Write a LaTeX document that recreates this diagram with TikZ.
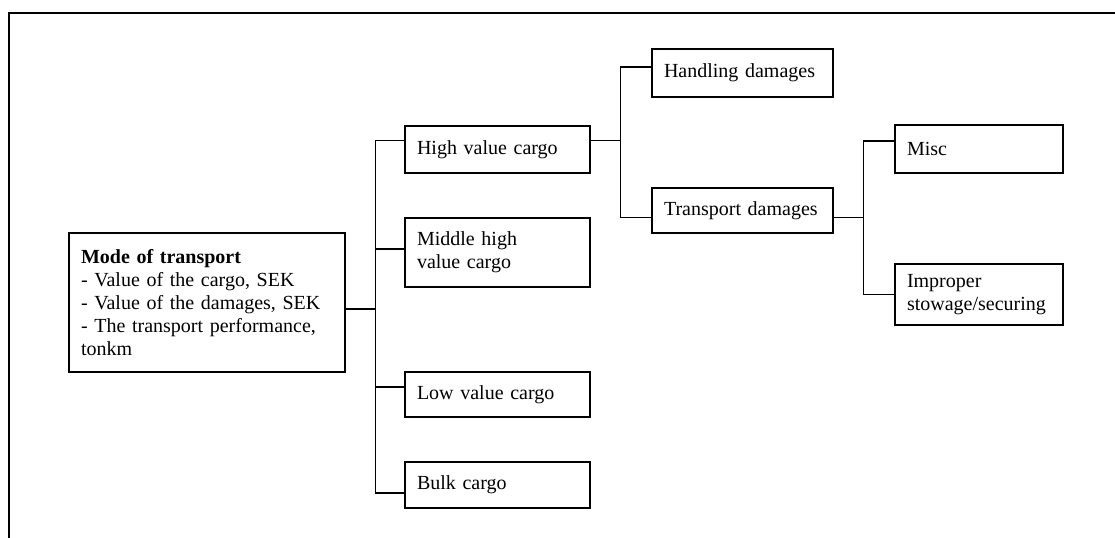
\documentclass[tikz,border=0pt]{standalone}
\usepackage{fontspec}
\setmainfont{Liberation Serif}
\usetikzlibrary{positioning}
\tikzstyle{frame} = [draw, line width=1.1pt]
\tikzstyle{block} = [rectangle, draw, line width=0.8pt, align=left, inner xsep=9pt, inner ysep=2pt]
\tikzstyle{cargo} = [block, text width=120.75pt]
\tikzstyle{damage} = [block, text width=117.75pt]
\tikzstyle{cause} = [block, text width=108pt]
\tikzstyle{line} = [draw, line width=0.8pt]

\begin{document}
\begin{tikzpicture}[x=0.75pt, y=-0.75pt, font=\fontsize{15}{17.25}\selectfont]
    \useasboundingbox (0,0) rectangle (1115,538);
    % Frame
    \path [frame] (1115,13) -- (9,13) -- (9,538);
    % Place nodes
    \node [block, text width=189pt, minimum height=104.25pt] (mode) at (207,302.5)
        {\textbf{Mode of transport}\\- Value of the cargo, SEK\\- Value of the damages, SEK\\- The transport performance,\\tonkm};
    \node [cargo, minimum height=35.25pt] (high) at (497.5,149.5) {High value cargo};
    \node [cargo, minimum height=51.75pt] (middle) at (497.5,252.5) {Middle high\\value cargo};
    \node [cargo, minimum height=33.75pt] (low) at (497.5,394.5) {Low value cargo};
    \node [cargo, minimum height=34.5pt] (bulk) at (497.5,485) {Bulk cargo};
    \node [damage, minimum height=36pt] (handling) at (742.5,73) {Handling damages};
    \node [damage, minimum height=33.75pt] (transport) at (742.5,210.5) {Transport damages};
    \node [cause, minimum height=36pt] (misc) at (979,149) {Misc};
    \node [cause, minimum height=45.75pt] (stowage) at (979,294.5) {Improper\\stowage/securing};
    % Draw edges
    \path [line] ([yshift=-4.9pt]mode.east) -- ++(30,0) |- ([yshift=6.4pt]high.west);
    \path [line] ([yshift=-4.9pt]mode.east) -- ++(30,0) |- ([yshift=2.6pt]middle.west);
    \path [line] ([yshift=-4.9pt]mode.east) -- ++(30,0) |- ([yshift=5.6pt]low.west);
    \path [line] ([yshift=-4.9pt]mode.east) -- ++(30,0) |- ([yshift=-6pt]bulk.west);
    \path [line] ([yshift=6.4pt]high.east) -- ++(30,0) |- ([yshift=4.5pt]handling.west);
    \path [line] ([yshift=6.4pt]high.east) -- ++(30,0) |- ([yshift=-5.6pt]transport.west);
    \path [line] ([yshift=-5.6pt]transport.east) -- ++(30,0) |- ([yshift=6pt]misc.west);
    \path [line] ([yshift=-5.6pt]transport.east) -- ++(30,0) |- (stowage.west);
\end{tikzpicture}
\end{document}
